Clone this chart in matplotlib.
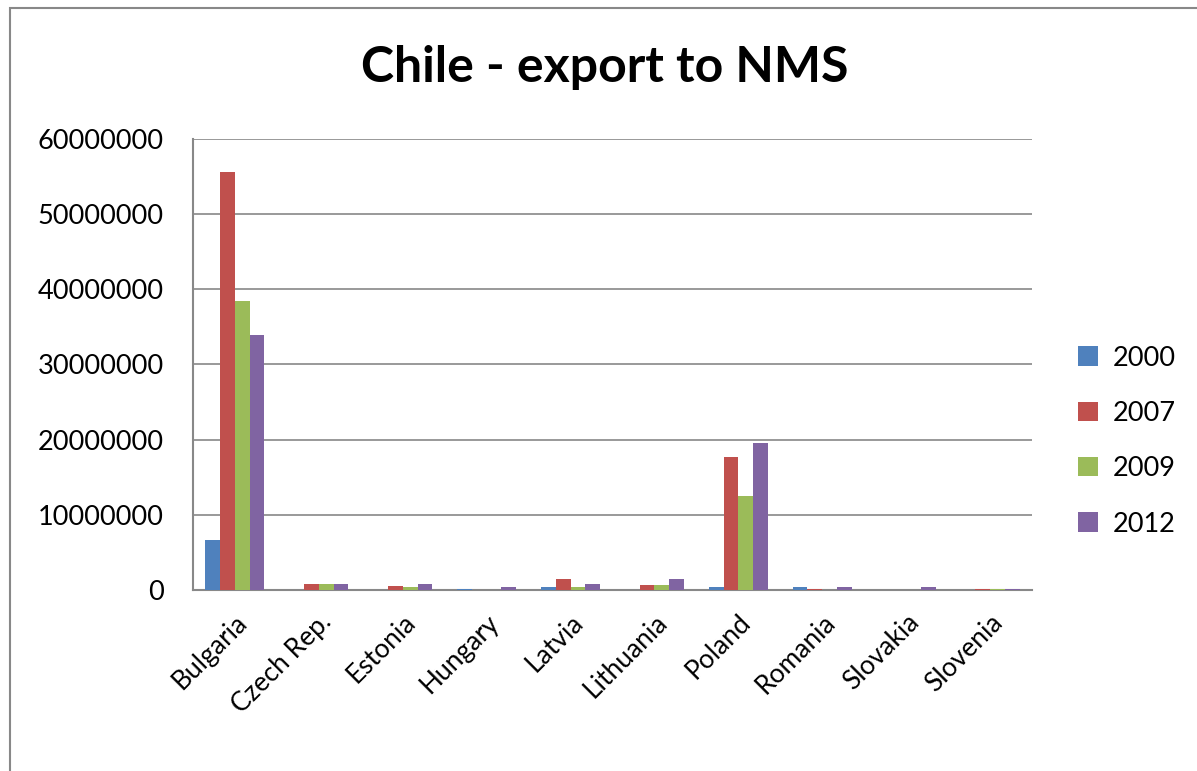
import matplotlib
matplotlib.use("Agg")
import matplotlib.pyplot as plt
import numpy as np
from matplotlib.patches import Rectangle

countries = ["Bulgaria", "Czech Rep.", "Estonia", "Hungary", "Latvia",
             "Lithuania", "Poland", "Romania", "Slovakia", "Slovenia"]
years = ["2000", "2007", "2009", "2012"]
v2000 = [6600000, 0, 0, 100000, 400000, 0, 400000, 400000, 0, 0]
v2007 = [55600000, 800000, 500000, 50000, 1400000, 700000, 17700000, 100000, 0, 100000]
v2009 = [38500000, 800000, 400000, 50000, 400000, 700000, 12500000, 0, 0, 100000]
v2012 = [33900000, 800000, 800000, 400000, 800000, 1400000, 19500000, 400000, 400000, 100000]
series = [v2000, v2007, v2009, v2012]
colors = ["#4F81BD", "#C0504D", "#9BBB59", "#8064A2"]

plt.rcParams['font.family'] = ['Lato', 'DejaVu Sans']

fig = plt.figure(figsize=(11.97, 7.71), dpi=100)
fig.patches.append(Rectangle((10/1197, -0.1), 1.2, 1.1 - 8/771, transform=fig.transFigure,
                             fill=False, edgecolor="#888888", linewidth=1.5))
ax = fig.add_axes([193/1197, 1 - 590/771, (1032 - 193)/1197, (590 - 139)/771])

x = np.arange(len(countries))
w = 0.176
for i, (vals, c) in enumerate(zip(series, colors)):
    ax.bar(x + (i - 1.5) * w, vals, width=w, color=c, label=years[i], zorder=3)

ax.set_xlim(-0.5, len(countries) - 0.5)
ax.set_ylim(0, 60000000)
ax.set_yticks(np.arange(0, 60000001, 10000000))
ax.set_yticklabels([str(v) for v in range(0, 60000001, 10000000)], fontsize=19.5)
ax.set_xticks(x)
ax.set_xticklabels(countries, rotation=45, ha="right", rotation_mode="anchor", fontsize=19)
ax.tick_params(axis="x", length=0, pad=14)
ax.tick_params(axis="y", length=0, pad=21)
ax.grid(axis="y", color="#888888", linewidth=1.2, zorder=0)
for s in ["top", "right"]:
    ax.spines[s].set_visible(False)
for s in ["left", "bottom"]:
    ax.spines[s].set_color("#888888")
    ax.spines[s].set_linewidth(1.5)

fig.text(0.505, 1 - 68/771, "Chile - export to NMS", ha="center", va="center",
         fontsize=36, fontweight="bold")

leg = fig.legend(loc="center left", bbox_to_anchor=(1078/1197, 1 - 441/771),
                 bbox_transform=fig.transFigure, frameon=False, borderpad=0, borderaxespad=0,
                 fontsize=19.5, handlelength=0.72, handleheight=0.72, labelspacing=1.12,
                 handletextpad=0.55)

fig.savefig("out.png", dpi=100)
